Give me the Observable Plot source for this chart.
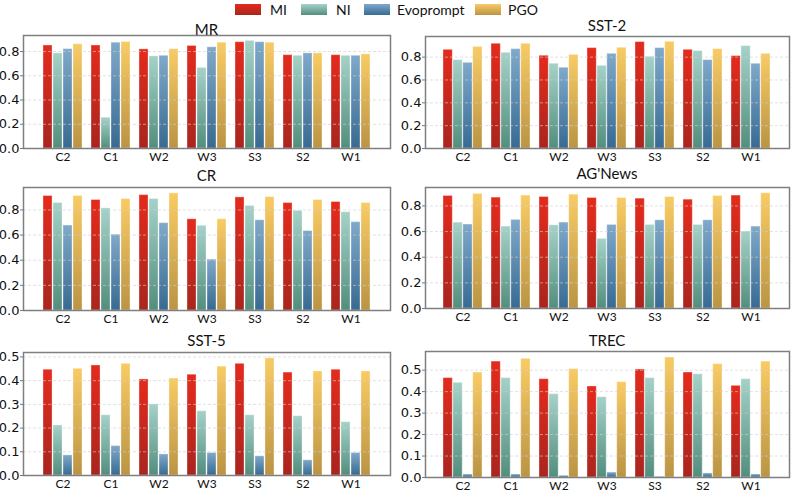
<!DOCTYPE html>
<html>
<head>
<meta charset="utf-8">
<script src="https://cdn.jsdelivr.net/npm/d3@7"></script>
<script src="https://cdn.jsdelivr.net/npm/@observablehq/plot@0.6"></script>
<style>
  body { margin: 0; background: #fff; }
  #root { position: relative; width: 793px; height: 495px; overflow: hidden; background: #fff; }
  .panel { position: absolute; }
  .title { position: absolute; font-family: Lato, "Open Sans", sans-serif; font-size: 15px; color: #111; transform: translate(-50%, -50%); white-space: nowrap; }
  .leg { position: absolute; top: 4px; height: 11px; width: 26px; }
  .legt { position: absolute; top: 0px; font-family: Lato, "Open Sans", sans-serif; font-size: 14px; line-height: 19px; color: #111; }
  svg g[aria-label^="x-axis"] text { font-family: Lato, "Open Sans", sans-serif; font-size: 12px; fill: #111; }
  svg g[aria-label^="y-axis"] text { font-family: "DejaVu Sans", sans-serif; font-size: 13px; fill: #111; }
  svg g[aria-label^="y-axis"] path, svg g[aria-label^="y-axis"] line { stroke: #777; }
</style>
</head>
<body>
<div id="root"></div>
<script>
// ---------- data ----------
const categories = ["C2", "C1", "W2", "W3", "S3", "S2", "W1"];
const methods = ["MI", "NI", "Evoprompt", "PGO"];

// each dataset: [MI, NI, Evoprompt, PGO] values per category
const MR = [
  [0.850, 0.850, 0.818, 0.846, 0.877, 0.770, 0.770],
  [0.785, 0.254, 0.760, 0.665, 0.888, 0.765, 0.765],
  [0.820, 0.873, 0.765, 0.835, 0.877, 0.785, 0.765],
  [0.860, 0.879, 0.820, 0.873, 0.873, 0.785, 0.777]
];
const SST2 = [
  [0.864, 0.917, 0.812, 0.879, 0.932, 0.864, 0.809],
  [0.774, 0.838, 0.742, 0.724, 0.803, 0.853, 0.897],
  [0.750, 0.870, 0.707, 0.829, 0.879, 0.774, 0.742],
  [0.890, 0.917, 0.820, 0.882, 0.934, 0.870, 0.829]
];
const CR = [
  [0.911, 0.879, 0.918, 0.726, 0.900, 0.855, 0.863],
  [0.855, 0.813, 0.887, 0.674, 0.832, 0.792, 0.782],
  [0.676, 0.603, 0.695, 0.405, 0.718, 0.632, 0.703],
  [0.911, 0.887, 0.932, 0.726, 0.903, 0.879, 0.855]
];
const AGNEWS = [
  [0.878, 0.865, 0.870, 0.862, 0.857, 0.849, 0.881],
  [0.670, 0.639, 0.649, 0.543, 0.652, 0.652, 0.600],
  [0.655, 0.691, 0.670, 0.652, 0.688, 0.688, 0.639],
  [0.894, 0.881, 0.888, 0.862, 0.870, 0.878, 0.899]
];
const SST5 = [
  [0.446, 0.464, 0.405, 0.425, 0.471, 0.434, 0.446],
  [0.211, 0.254, 0.300, 0.271, 0.254, 0.250, 0.225],
  [0.085, 0.124, 0.089, 0.095, 0.081, 0.064, 0.095],
  [0.450, 0.471, 0.409, 0.459, 0.494, 0.439, 0.439]
];
const TREC = [
  [0.463, 0.540, 0.458, 0.424, 0.503, 0.489, 0.427],
  [0.441, 0.463, 0.388, 0.374, 0.463, 0.481, 0.458],
  [0.014, 0.014, 0.008, 0.023, 0.003, 0.019, 0.014],
  [0.489, 0.553, 0.505, 0.444, 0.559, 0.528, 0.540]
];

const titles = ["MR", "SST-2", "CR", "AG'News", "SST-5", "TREC"];
const tickSteps = [0.2, 0.2, 0.2, 0.2, 0.1, 0.1];
const datasets = [MR, SST2, CR, AGNEWS, SST5, TREC];

// ---------- styles ----------
const gradTop = ["#e42b1c", "#a5d2c8", "#80a9ca", "#f9cb64"];
const gradBot = ["#a9251f", "#528e7e", "#386a92", "#bb9444"];

// layout: [svgLeft, svgWidth, frameLeft, frameRight, frameTop, frameBottom, titleY]
const layout = [
  [0, 396, 23, 390, 35, 148, 29],
  [396, 397, 425, 789, 36, 148, 25],
  [0, 396, 23, 390, 187, 310, 175],
  [396, 397, 425, 789, 187, 308, 173],
  [0, 396, 23, 390, 352, 475, 340],
  [396, 397, 425, 789, 351, 477, 340]
];

const root = document.getElementById("root");
const SVGNS = "http://www.w3.org/2000/svg";

// legend
const legLayout = [[235, 270], [301, 336], [364, 397], [475, 508]];
methods.forEach((m, j) => {
  const sw = document.createElement("div");
  sw.className = "leg";
  sw.style.left = legLayout[j][0] + "px";
  sw.style.background = `linear-gradient(${gradTop[j]}, ${gradBot[j]})`;
  root.appendChild(sw);
  const t = document.createElement("div");
  t.className = "legt";
  t.style.left = legLayout[j][1] + "px";
  t.textContent = m;
  root.appendChild(t);
});

const pi = 0.184, po = 0.34;

datasets.forEach((ds, k) => {
  const [sl, sw, fl, fr, ft, fb, ty] = layout[k];
  const mt = 6, mb = 24;
  const top = ft - mt;
  const height = fb - ft + mt + mb;
  const marginLeft = fl - sl;
  const marginRight = sl + sw - fr;
  const innerW = fr - fl;
  const bw = innerW / (categories.length - pi + 2 * po) * (1 - pi);

  const rows = [];
  ds.forEach((vals, j) => vals.forEach((v, i) => rows.push({cat: categories[i], method: methods[j], j, value: v})));
  const ymax = d3.max(rows, d => d.value) * 1.05;
  const ticks = d3.range(0, ymax + 1e-9, tickSteps[k]).map(v => +v.toFixed(2)).filter(v => v <= ymax);

  const defsMark = () => {
    const defs = document.createElementNS(SVGNS, "defs");
    methods.forEach((m, j) => {
      const g = document.createElementNS(SVGNS, "linearGradient");
      g.setAttribute("id", `g${k}_${j}`);
      g.setAttribute("x1", "0"); g.setAttribute("y1", "0");
      g.setAttribute("x2", "0"); g.setAttribute("y2", "1");
      const s1 = document.createElementNS(SVGNS, "stop");
      s1.setAttribute("offset", "0"); s1.setAttribute("stop-color", gradTop[j]);
      const s2 = document.createElementNS(SVGNS, "stop");
      s2.setAttribute("offset", "1"); s2.setAttribute("stop-color", gradBot[j]);
      g.appendChild(s1); g.appendChild(s2);
      defs.appendChild(g);
    });
    return defs;
  };

  const barMarks = methods.map((m, j) => Plot.barY(rows.filter(d => d.j === j), {
    x: "cat", y: "value",
    fill: `url(#g${k}_${j})`,
    stroke: "white", strokeOpacity: 0.35, strokeWidth: 1,
    insetLeft: j * bw / 4, insetRight: (3 - j) * bw / 4
  }));

  const chart = Plot.plot({
    width: sw, height,
    marginLeft, marginRight, marginTop: mt, marginBottom: mb,
    style: {background: "transparent", overflow: "visible"},
    x: {domain: categories, paddingInner: pi, paddingOuter: po, label: null, tickSize: 0, tickPadding: 4},
    y: {domain: [0, ymax], ticks, tickFormat: d3.format(".1f"), label: null, tickSize: 3, tickPadding: 1},
    marks: [
      defsMark,
      ...barMarks,
      Plot.ruleY(ticks.filter(v => v > 0), {stroke: "#d0d0d0", strokeOpacity: 0.8, strokeDasharray: "3,2", strokeWidth: 0.8}),
      Plot.frame({stroke: "#7f7f7f", strokeWidth: 1.5})
    ]
  });

  const wrap = document.createElement("div");
  wrap.className = "panel";
  wrap.style.left = sl + "px";
  wrap.style.top = top + "px";
  wrap.appendChild(chart);
  root.appendChild(wrap);

  const t = document.createElement("div");
  t.className = "title";
  t.style.left = ((fl + fr) / 2) + "px";
  t.style.top = ty + "px";
  t.textContent = titles[k];
  root.appendChild(t);
});
</script>
</body>
</html>
